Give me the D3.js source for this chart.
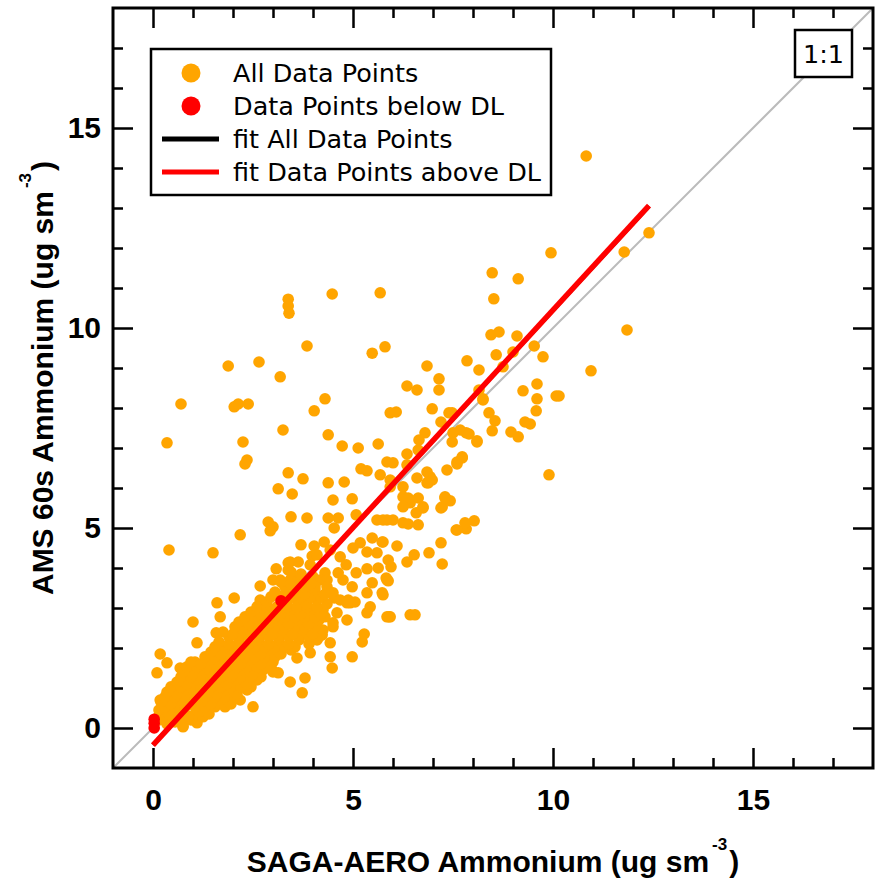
<!DOCTYPE html>
<html>
<head>
<meta charset="utf-8">
<script src="https://cdn.jsdelivr.net/npm/d3@7"></script>
<style>
  body { margin: 0; background: #fff; }
  svg { display: block; }
</style>
</head>
<body>
<svg id="chart" width="875" height="879"></svg>
<script>
// SAGA-AERO vs AMS (60 s) ammonium, ug sm^-3 : [saga, ams]
const allPoints = [
  // high / scattered points
  [10.83,14.3],[8.68,13.45],[9.95,11.88],[11.78,11.9],[12.4,12.38],[8.48,11.38],[9.13,11.23],
  [8.52,10.73],[11.85,9.95],[10.95,8.93],[1.88,9.05],[2.65,9.15],[3.18,8.78],[3.38,10.72],
  [3.38,10.55],[3.4,10.37],[4.48,10.85],[5.68,10.88],[3.85,9.55],[5.48,9.37],[5.8,9.53],
  [6.85,9.05],[7.15,8.73],[7.85,9.18],[8.15,8.95],[8.45,9.83],[8.65,9.9],[9.1,9.8],[8.58,9.33],
  [9.0,9.4],[8.75,9.03],[9.53,9.55],[9.75,9.28],[6.35,8.55],[6.6,8.45],[7.15,8.45],[8.15,8.45],
  [8.25,8.2],[9.25,8.43],[9.6,8.6],[9.6,8.23],[10.08,8.3],[10.15,8.3],[8.4,7.88],[8.55,7.68],
  [8.48,7.43],[9.58,7.93],[9.3,7.65],[9.43,7.6],[8.95,7.4],[9.13,7.28],[8.1,7.18],[7.83,7.38],
  [7.68,7.45],[7.73,6.78],[7.6,6.65],[9.9,6.33],[7.48,7.88],[8.25,8.23],[4.3,8.23],[4.03,7.93],
  [3.25,7.45],[4.38,7.33],[4.73,7.05],[5.13,7.0],[5.63,7.1],[5.93,7.88],[6.08,7.9],[6.98,7.98],
  [7.4,7.88],[7.2,7.65],[6.8,7.38],[6.65,7.2],[7.5,7.38],[7.9,7.35],[7.48,7.15],[8.1,7.15],
  [0.7,8.1],[2.03,8.03],[2.13,8.1],[2.38,8.1],[0.35,7.13],[2.25,7.15],[2.35,6.7],[2.3,6.6],
  [0.4,4.45],[1.5,4.38],[2.18,4.83],
  // mid range, 3 - 8 ug sm^-3
  [3.38,6.38],[3.75,6.23],[3.13,5.98],[3.48,5.85],[4.38,6.13],[4.78,6.15],[4.5,5.7],[4.98,5.73],
  [5.2,6.48],[5.35,6.43],[5.68,6.33],[5.85,6.65],[6.0,6.63],[5.93,6.2],[6.35,6.85],[6.63,6.95],
  [6.35,6.58],[6.6,6.25],[6.85,6.4],[6.93,6.28],[6.88,6.13],[6.98,6.2],[7.35,6.45],[7.6,6.6],
  [7.73,6.75],[5.93,6.03],[6.25,6.03],[6.25,5.78],[6.35,5.7],[6.43,5.63],[6.63,5.75],[6.75,5.53],
  [6.58,5.38],[7.3,5.78],[7.43,5.68],[7.23,5.53],[2.88,5.15],[3.0,5.03],[2.93,4.93],[3.45,5.28],
  [3.85,5.25],[4.38,5.25],[4.63,5.25],[4.53,5.0],[5.08,5.33],[5.6,5.2],[5.85,5.2],[6.0,5.2],
  [6.25,5.13],[6.38,5.1],[6.63,5.08],[7.58,4.95],[7.83,4.98],[8.03,5.18],[7.2,4.63],[6.9,4.38],
  [7.23,4.1],[6.53,4.33],[6.35,4.15],[6.1,4.55],[5.6,4.38],[5.35,4.4],[5.73,4.65],[5.48,4.75],
  [5.18,4.63],[5.0,4.5],[4.03,4.55],[4.28,4.65],[3.98,4.3],[4.68,4.28],[4.83,4.08],[5.08,3.88],
  [5.35,3.98],[5.63,4.0],[5.88,4.2],[5.95,4.03],[5.48,3.63],[5.73,3.38],[5.85,3.7],[5.35,3.38],
  [4.98,3.53],[4.75,3.7],[4.53,3.25],[4.88,3.2],[5.05,3.15],[5.43,3.03],[5.35,2.88],[5.93,2.78],
  [6.43,2.83],[6.55,2.83],[4.3,3.88],[4.18,3.7],[4.35,3.7],[4.63,3.88],[4.43,4.45],[3.43,4.15],
  [3.63,4.15],[3.38,3.95],[3.08,3.98],[2.68,3.55],[3.18,3.7],[3.25,3.63],[3.5,3.73],[3.75,3.7],
  [4.0,3.78],[6.38,5.75],[6.25,5.53],[6.75,5.5],[7.2,5.5],[7.3,5.75],[6.85,6.13],[5.75,5.2],
  [7.6,4.95],[7.8,5.13],[5.75,4.65],[5.83,3.75],[5.88,3.68],[5.75,3.33],[5.9,2.78],
  [3.38,4.13],[3.0,3.7],[3.7,4.58],[4.1,4.33],[3.93,4.08],[3.43,3.7],[3.68,3.53],[3.88,3.38],
  [4.1,3.28],[4.35,3.53],[4.5,3.38],[4.68,3.2],[4.93,3.13],[3.75,3.03],[4.0,2.88],[4.25,2.95],
  [4.6,2.88],[3.68,2.7],[4.1,2.63],[4.5,2.53],[4.85,2.7],[2.68,3.2],[2.93,2.95],[2.6,2.7],
  // low range, below 3 ug sm^-3
  [2.03,3.25],[1.6,3.13],[1.68,2.78],[1.0,2.65],[1.1,2.13],[1.58,2.38],[0.18,1.85],[0.1,1.38],
  [0.35,1.63],[0.68,1.5],[1.05,1.65],[0.18,0.7],[0.13,0.28],[0.5,1.0],[0.75,0.03],[1.1,0.13],
  [2.5,0.53],[2.18,0.7],[3.43,1.15],[3.73,0.88],[3.8,1.25],[3.13,1.38],[2.98,1.45],[3.0,1.65],
  [3.6,1.75],[3.93,1.88],[4.1,2.2],[4.43,2.13],[4.48,1.5],[4.43,1.78],[4.98,1.78],[5.23,2.15],
  [5.28,2.35],[5.85,2.78],[4.85,3.13],[4.5,2.63],[4.23,2.33],
  [0.15,0.2],[0.35,0.1],[0.55,0.15],[0.75,0.05],[0.95,0.2],
  [0.25,0.28],[0.5,0.28],[0.75,0.28],[1.0,0.28],[1.25,0.28],
  [0.15,0.45],[0.4,0.35],[0.65,0.4],[0.9,0.3],[1.15,0.4],[1.4,0.35],
  [0.3,0.53],[0.55,0.53],[0.8,0.53],[1.05,0.53],[1.3,0.53],[1.55,0.53],[1.8,0.53],
  [0.2,0.65],[0.45,0.6],[0.7,0.7],[0.95,0.6],[1.2,0.65],[1.45,0.6],[1.7,0.7],[1.95,0.6],
  [0.3,0.78],[0.55,0.78],[0.8,0.78],[1.05,0.78],[1.3,0.78],[1.55,0.78],[1.8,0.78],[2.05,0.78],
  [0.35,0.9],[0.6,0.85],[0.85,0.95],[1.1,0.85],[1.35,0.95],[1.6,0.85],[1.85,0.95],[2.1,0.85],[2.35,0.95],
  [0.45,1.03],[0.7,1.03],[0.95,1.03],[1.2,1.03],[1.45,1.03],[1.7,1.03],[1.95,1.03],[2.2,1.03],[2.45,1.03],
  [0.6,1.15],[0.85,1.1],[1.1,1.2],[1.35,1.1],[1.6,1.2],[1.85,1.1],[2.1,1.2],[2.35,1.1],[2.6,1.2],
  [0.7,1.28],[0.95,1.28],[1.2,1.28],[1.45,1.28],[1.7,1.28],[1.95,1.28],[2.2,1.28],[2.45,1.28],[2.7,1.28],
  [0.75,1.4],[1.0,1.35],[1.25,1.45],[1.5,1.35],[1.75,1.45],[2.0,1.35],[2.25,1.45],[2.5,1.35],[2.75,1.45],[3.0,1.4],
  [0.85,1.53],[1.1,1.53],[1.35,1.53],[1.6,1.53],[1.85,1.53],[2.1,1.53],[2.35,1.53],[2.6,1.53],[2.85,1.53],
  [0.95,1.65],[1.2,1.6],[1.45,1.7],[1.7,1.6],[1.95,1.7],[2.2,1.6],[2.45,1.7],[2.7,1.6],[2.95,1.7],
  [1.3,1.78],[1.55,1.78],[1.8,1.78],[2.05,1.78],[2.3,1.78],[2.55,1.78],[2.8,1.78],[3.05,1.78],
  [1.45,1.9],[1.7,1.85],[1.95,1.95],[2.2,1.85],[2.45,1.95],[2.7,1.85],[2.95,1.95],[3.2,1.85],[3.45,1.95],
  [1.55,2.03],[1.8,2.03],[2.05,2.03],[2.3,2.03],[2.55,2.03],[2.8,2.03],[3.05,2.03],[3.3,2.03],[3.55,2.03],
  [1.65,2.15],[1.9,2.1],[2.15,2.2],[2.4,2.1],[2.65,2.2],[2.9,2.1],[3.15,2.2],[3.4,2.1],[3.65,2.2],[3.9,2.1],
  [1.9,2.28],[2.15,2.28],[2.4,2.28],[2.65,2.28],[2.9,2.28],[3.15,2.28],[3.4,2.28],[3.65,2.28],[3.9,2.28],[4.15,2.28],
  [1.75,2.4],[2.0,2.35],[2.25,2.45],[2.5,2.35],[2.75,2.45],[3.0,2.35],[3.25,2.45],[3.5,2.35],[3.75,2.45],[4.0,2.35],[4.25,2.45],
  [2.05,2.53],[2.3,2.53],[2.55,2.53],[2.8,2.53],[3.05,2.53],[3.3,2.53],[3.55,2.53],[3.8,2.53],[4.05,2.53],
  [2.15,2.65],[2.4,2.6],[2.65,2.7],[2.9,2.6],[3.15,2.7],[3.4,2.6],[3.65,2.7],[3.9,2.6],[4.15,2.7],
  [2.3,2.78],[2.55,2.78],[2.8,2.78],[3.05,2.78],[3.3,2.78],[3.55,2.78],[3.8,2.78],[4.05,2.78],[4.3,2.78],
  [2.45,2.9],[2.7,2.85],[2.95,2.95],[3.2,2.85],[3.45,2.95],[3.7,2.85],[3.95,2.95],[4.2,2.85],
  [2.6,3.03],[2.85,3.03],[3.1,3.03],[3.35,3.03],[3.6,3.03],[3.85,3.03],[4.1,3.03],
  [2.85,3.15],[3.35,3.1],[3.6,3.2],[3.85,3.1],[4.1,3.2],[4.35,3.1],
  [2.95,3.28],[3.2,3.28],[3.45,3.28],[3.7,3.28],[3.95,3.28],[4.2,3.28],
  [3.05,3.4],[3.3,3.35],[3.55,3.45],[3.8,3.35],[4.05,3.45],[4.3,3.35],
  [3.3,3.53],[3.55,3.53],[3.8,3.53],[4.05,3.53],
  [3.2,3.65],[3.45,3.6],[3.7,3.7],[3.95,3.6],[3.45,3.9],[3.7,3.85]
];

// points flagged below the detection limit
const belowDL = [[0.03,0.22],[0.03,0.12],[0.03,0.0],[3.2,3.18]];

// linear fits (slope, intercept) over the SAGA range
const fitAll     = { slope: 1.086, intercept: -0.42, x0: 0, x1: 12.4 };
const fitAboveDL = { slope: 1.088, intercept: -0.43, x0: 0, x1: 12.4 };

const majorTicks = [0, 5, 10, 15];
const minorTicks = [1,2,3,4,6,7,8,9,11,12,13,14,16,17];
const legendLabels = ["All Data Points", "Data Points below DL", "fit All Data Points", "fit Data Points above DL"];

const COL_ALL = "#FFA500", COL_DL = "#FF0000", COL_ONE = "#BBBBBB";
const plot = { left: 113, top: 8, right: 873, bottom: 768 };

const svg = d3.select("#chart");
const x = d3.scaleLinear().domain([-1, 18]).range([plot.left, plot.right]);
const y = d3.scaleLinear().domain([-1, 18]).range([plot.bottom, plot.top]);

svg.append("defs").append("clipPath").attr("id", "plotClip")
  .append("rect").attr("x", plot.left).attr("y", plot.top)
  .attr("width", plot.right - plot.left).attr("height", plot.bottom - plot.top);

const inner = svg.append("g").attr("clip-path", "url(#plotClip)");

// 1:1 reference line
inner.append("line")
  .attr("x1", x(-1)).attr("y1", y(-1)).attr("x2", x(18)).attr("y2", y(18))
  .attr("stroke", COL_ONE).attr("stroke-width", 2);

inner.append("g").selectAll("circle").data(allPoints).join("circle")
  .attr("cx", d => x(d[0])).attr("cy", d => y(d[1])).attr("r", 5.8)
  .attr("fill", COL_ALL);

inner.append("g").selectAll("circle").data(belowDL).join("circle")
  .attr("cx", d => x(d[0])).attr("cy", d => y(d[1])).attr("r", 5.8)
  .attr("fill", COL_DL);

function fitLine(f, color, w) {
  inner.append("line")
    .attr("x1", x(f.x0)).attr("y1", y(f.slope * f.x0 + f.intercept))
    .attr("x2", x(f.x1)).attr("y2", y(f.slope * f.x1 + f.intercept))
    .attr("stroke", color).attr("stroke-width", w);
}
fitLine(fitAll, "#000", 4);
fitLine(fitAboveDL, COL_DL, 5.5);

// axes: ticks point inward on all four sides
const tickFont = "bold 30px 'Liberation Sans', Arial, sans-serif";
function styleAxis(g) {
  g.select(".domain").remove();
  g.selectAll(".tick line").attr("stroke", "#000").attr("stroke-width", 2.5);
  g.selectAll(".tick text").style("font", tickFont).attr("fill", "#000");
}
function addAxis(axisFn, scale, values, size, transform, labels, pad) {
  const a = axisFn(scale).tickValues(values).tickSizeInner(-size).tickSizeOuter(0)
    .tickPadding(pad || 3).tickFormat(labels ? d3.format("d") : "");
  svg.append("g").attr("transform", transform).call(a).call(styleAxis);
}
addAxis(d3.axisBottom, x, majorTicks, 20, `translate(0,${plot.bottom})`, true, 21);
addAxis(d3.axisBottom, x, minorTicks, 10, `translate(0,${plot.bottom})`, false);
addAxis(d3.axisTop, x, majorTicks, 20, `translate(0,${plot.top})`, false);
addAxis(d3.axisTop, x, minorTicks, 10, `translate(0,${plot.top})`, false);
addAxis(d3.axisLeft, y, majorTicks, 20, `translate(${plot.left},0)`, true, 12);
addAxis(d3.axisLeft, y, minorTicks, 10, `translate(${plot.left},0)`, false);
addAxis(d3.axisRight, y, majorTicks, 20, `translate(${plot.right},0)`, false);
addAxis(d3.axisRight, y, minorTicks, 10, `translate(${plot.right},0)`, false);

// frame
svg.append("rect")
  .attr("x", plot.left).attr("y", plot.top)
  .attr("width", plot.right - plot.left).attr("height", plot.bottom - plot.top)
  .attr("fill", "none").attr("stroke", "#000").attr("stroke-width", 3);

// axis titles
const titleFont = "bold 30px 'Liberation Sans', Arial, sans-serif";
function axisTitle(g, label) {
  const t = g.append("text").style("font", titleFont).attr("fill", "#000")
    .attr("text-anchor", "middle");
  t.append("tspan").text(label);
  t.append("tspan").attr("dy", -22).attr("dx", 3).style("font-size", "17px").text("-3");
  t.append("tspan").attr("dy", 22).attr("dx", 2).text(")");
  return t;
}
axisTitle(svg.append("g").attr("transform", `translate(${(plot.left + plot.right) / 2},872)`),
  "SAGA-AERO Ammonium (ug sm");
axisTitle(svg.append("g").attr("transform", `translate(53,${(plot.top + plot.bottom) / 2 - 10}) rotate(-90)`),
  "AMS 60s Ammonium (ug sm");

// legend
const legendFont = "25.5px 'DejaVu Sans', sans-serif";
const lg = svg.append("g");
lg.append("rect").attr("x", 151).attr("y", 49).attr("width", 400).attr("height", 146)
  .attr("fill", "#fff").attr("stroke", "#000").attr("stroke-width", 2.5);
const rowY = [73, 106, 139, 172];
lg.append("circle").attr("cx", 191).attr("cy", rowY[0]).attr("r", 9.5).attr("fill", COL_ALL);
lg.append("circle").attr("cx", 191).attr("cy", rowY[1]).attr("r", 9.5).attr("fill", COL_DL);
lg.append("line").attr("x1", 162).attr("x2", 219).attr("y1", rowY[2]).attr("y2", rowY[2])
  .attr("stroke", "#000").attr("stroke-width", 5);
lg.append("line").attr("x1", 162).attr("x2", 219).attr("y1", rowY[3]).attr("y2", rowY[3])
  .attr("stroke", COL_DL).attr("stroke-width", 5);
lg.selectAll("text.lab").data(legendLabels).join("text").attr("class", "lab")
  .attr("x", 233).attr("y", (d, i) => rowY[i] + 9)
  .style("font", legendFont).attr("fill", "#000").text(d => d);

// 1:1 tag
svg.append("rect").attr("x", 795).attr("y", 30).attr("width", 57).attr("height", 47)
  .attr("fill", "#fff").attr("stroke", "#000").attr("stroke-width", 2.5);
svg.append("text").attr("x", 823.5).attr("y", 63).attr("text-anchor", "middle")
  .style("font", legendFont).attr("fill", "#000").text("1:1");
</script>
</body>
</html>
